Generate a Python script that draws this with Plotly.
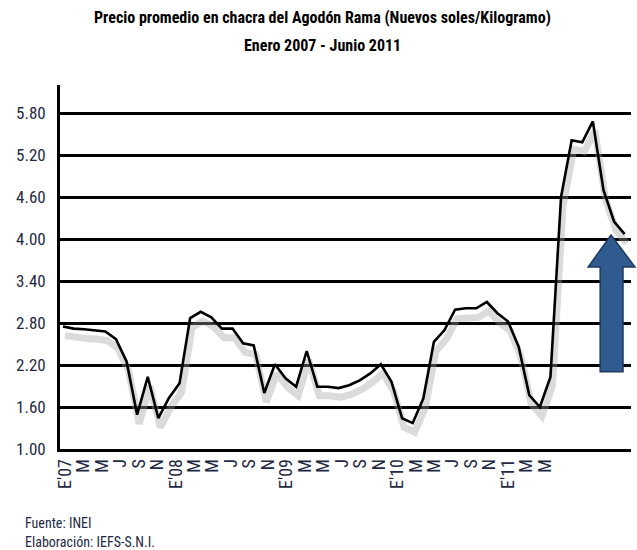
import plotly.graph_objects as go

# Monthly average farm-gate price, Jan 2007 - Jun 2011 (Nuevos soles / kg)
precio = [
    2.75, 2.72, 2.71, 2.70, 2.68, 2.57, 2.25, 1.49, 2.03, 1.44, 1.73, 1.94,   # 2007
    2.87, 2.96, 2.88, 2.72, 2.72, 2.51, 2.48, 1.80, 2.21, 2.01, 1.89, 2.40,   # 2008
    1.89, 1.89, 1.87, 1.91, 1.98, 2.08, 2.21, 1.96, 1.44, 1.37, 1.72, 2.53,   # 2009
    2.70, 2.99, 3.01, 3.01, 3.10, 2.94, 2.82, 2.46, 1.77, 1.60, 2.03, 4.60,   # 2010
    5.41, 5.38, 5.68, 4.70, 4.25, 4.07,                                       # 2011
]
meses = list(range(len(precio)))

etiquetas_x = ["E'07", "M", "M", "J", "S", "N",
               "E'08", "M", "M", "J", "S", "N",
               "E'09", "M", "M", "J", "S", "N",
               "E'10", "M", "M", "J", "S", "N",
               "E'11", "M", "M"]
posiciones_x = list(range(0, 2 * len(etiquetas_x), 2))

ticks_y = [1.00, 1.60, 2.20, 2.80, 3.40, 4.00, 4.60, 5.20, 5.80]
etiquetas_y = [f"{v:.2f}" for v in ticks_y]

FONT = "Liberation Sans Narrow, Roboto Condensed, Arial Narrow, Noto Sans, sans-serif"
TXT = "#1f2a44"

YR = [1.0, 6.2]
XR = [-0.28, 53.6]
XR_LABELS = [-0.54, 61.33]
dy, dx = 0.13, 0.19

fig = go.Figure()

# soft shadow under the line (base axes, ranges nudged)
fig.add_trace(go.Scatter(x=meses, y=precio, mode="lines", xaxis="x", yaxis="y",
                         line=dict(color="rgba(160,160,160,0.38)", width=7),
                         hoverinfo="skip", showlegend=False))
# main line
fig.add_trace(go.Scatter(x=meses, y=precio, mode="lines", xaxis="x2", yaxis="y2",
                         line=dict(color="black", width=2.6),
                         showlegend=False))
# invisible helper carrying the month-label axis
fig.add_trace(go.Scatter(x=posiciones_x, y=[precio[i] for i in posiciones_x], mode="markers",
                         xaxis="x3", yaxis="y2", marker=dict(opacity=0),
                         hoverinfo="skip", showlegend=False))

fig.update_layout(
    width=637, height=550,
    margin=dict(l=60, r=6, t=85, b=101, autoexpand=False),
    paper_bgcolor="white", plot_bgcolor="white",
    font=dict(family=FONT, color=TXT, size=13),
    xaxis=dict(range=[XR[0] - dx, XR[1] - dx], visible=False, automargin=False),
    yaxis=dict(range=[YR[0] + dy, YR[1] + dy], visible=False, automargin=False),
    xaxis2=dict(overlaying="x", anchor="y2", range=XR, visible=False, automargin=False),
    yaxis2=dict(overlaying="y", anchor="x2", range=YR, tickmode="array", tickvals=ticks_y,
                ticktext=etiquetas_y, showgrid=True, gridcolor="black", gridwidth=2.8,
                zeroline=False, ticks="", showline=True, linecolor="black", linewidth=2.8,
                ticklabelstandoff=8, automargin=False,
                tickfont=dict(family=FONT, size=17, color=TXT)),
    xaxis3=dict(overlaying="x", anchor="y2", side="bottom", range=XR_LABELS, tickmode="array",
                tickvals=posiciones_x, ticktext=etiquetas_x, tickangle=-90, showgrid=False,
                zeroline=False, ticks="", showline=True, linecolor="black", linewidth=2.8,
                automargin=False, tickfont=dict(family=FONT, size=18, color=TXT)),
)

# blue upward arrow
fig.add_shape(type="path", xref="paper", yref="paper",
              path="M 0.965 0.588 L 1.007 0.500 L 0.986 0.500 L 0.986 0.212 "
                   "L 0.946 0.212 L 0.946 0.500 L 0.925 0.500 Z",
              fillcolor="#2f5b8e", line=dict(color="#1d3a60", width=1.5))

fig.add_annotation(text="<b>Precio promedio en chacra del Agodón Rama (Nuevos soles/Kilogramo)</b>",
                   xref="paper", yref="paper", x=0.46, y=1.0, yanchor="middle", yshift=68,
                   showarrow=False, font=dict(family=FONT, size=16, color="black"))
fig.add_annotation(text="<b>Enero 2007 - Junio 2011</b>",
                   xref="paper", yref="paper", x=0.46, y=1.0, yanchor="middle", yshift=40,
                   showarrow=False, font=dict(family=FONT, size=16, color="black"))
fig.add_annotation(text="Fuente: INEI", xref="paper", yref="paper", x=-0.065, y=0,
                   yanchor="middle", yshift=-74, xanchor="left", showarrow=False,
                   font=dict(family=FONT, size=14, color=TXT))
fig.add_annotation(text="Elaboración: IEFS-S.N.I.", xref="paper", yref="paper", x=-0.065, y=0,
                   yanchor="middle", yshift=-93, xanchor="left", showarrow=False,
                   font=dict(family=FONT, size=14, color=TXT))

fig.write_html("out.html", config={"displayModeBar": False},
               post_script="document.body.style.margin='0';document.body.style.overflow='hidden';")
